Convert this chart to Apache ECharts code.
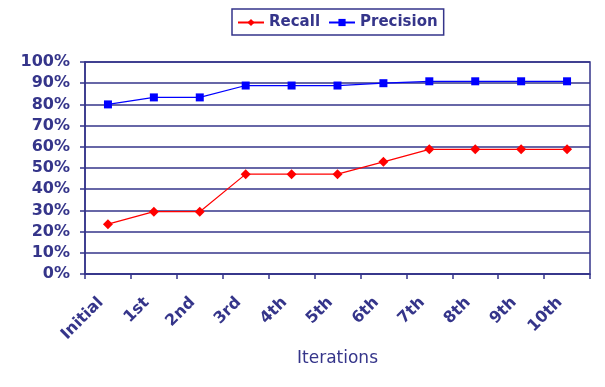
<!DOCTYPE html>
<html><head><meta charset="utf-8">
<script src="https://cdn.jsdelivr.net/npm/echarts@6/dist/echarts.min.js"></script>
<style>html,body{margin:0;padding:0;background:#fff}#c{width:605px;height:387px}</style>
</head><body><div id="c"></div>
<script>
const categories = ['Initial','1st','2nd','3rd','4th','5th','6th','7th','8th','9th','10th'];
const recall = [23.5, 29.4, 29.4, 47.1, 47.1, 47.1, 52.9, 58.8, 58.8, 58.8, 58.8];
const precision = [80.0, 83.3, 83.3, 88.9, 88.9, 88.9, 90.0, 90.9, 90.9, 90.9, 90.9];
const yTicks = [0,10,20,30,40,50,60,70,80,90,100];

const ink = '#35358a';
const chart = echarts.init(document.getElementById('c'), null, {renderer:'canvas'});
chart.setOption({
  animation:false,
  backgroundColor:'#fff',
  legend:{
    top:9, left:232, itemGap:8, itemWidth:26, itemHeight:9,
    padding:[5,6,4,5],
    borderColor:ink, borderWidth:1.5,
    textStyle:{color:ink, fontFamily:'DejaVu Sans', fontWeight:'bold', fontSize:15, lineHeight:17},
    data:['Recall','Precision']
  },
  grid:{left:85, right:15, top:62, bottom:113, show:true, borderColor:ink, borderWidth:1.5},
  xAxis:{
    type:'category', data:categories, boundaryGap:true,
    name:'Iterations', nameLocation:'middle', nameGap:75,
    nameTextStyle:{color:ink, fontFamily:'DejaVu Sans', fontSize:17},
    axisLine:{lineStyle:{color:ink, width:1.5}},
    axisTick:{show:true, length:5, lineStyle:{color:ink, width:1.5}},
    axisLabel:{rotate:45, color:ink, fontFamily:'DejaVu Sans', fontWeight:'bold', fontSize:16,
      margin:19, padding:[0,10,0,0]}
  },
  yAxis:{
    type:'value', min:0, max:100, interval:10,
    axisLine:{show:true, lineStyle:{color:ink, width:1.5}},
    axisTick:{show:true, length:5, lineStyle:{color:ink, width:1.5}},
    splitLine:{lineStyle:{color:ink, width:1.5}},
    axisLabel:{color:ink, fontFamily:'DejaVu Sans', fontWeight:'bold', fontSize:16, margin:15,
      formatter:v=> yTicks.includes(v) ? v+'%' : ''}
  },
  series:[
    {name:'Recall', type:'line', data:recall, color:'#ff0000',
     symbol:'diamond', symbolSize:10, lineStyle:{width:1.2, color:'#ff0000'},
     itemStyle:{color:'#ff0000'}},
    {name:'Precision', type:'line', data:precision, color:'#0000ff',
     symbol:'rect', symbolSize:8, lineStyle:{width:1.2, color:'#0000ff'},
     itemStyle:{color:'#0000ff'}}
  ]
});
</script></body></html>
